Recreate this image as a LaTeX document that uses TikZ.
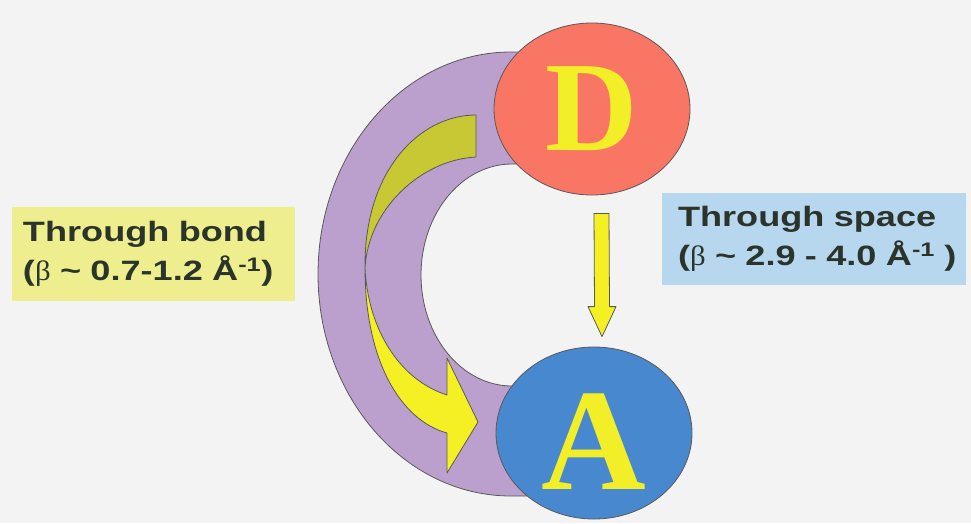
\documentclass[tikz,border=0pt]{standalone}
\usepackage{fontspec}
\setmainfont{Liberation Sans}
\newfontfamily\lblfont[FakeStretch=1.29]{Liberation Sans}
\newfontfamily\grkfont[FakeStretch=1.1]{Liberation Serif}
\newfontfamily\ltrfont{Liberation Serif}
\usetikzlibrary{shapes.geometric,calc}
\definecolor{bgc}{RGB}{243,243,243}
\definecolor{ringc}{RGB}{187,160,206}
\definecolor{donorc}{RGB}{249,118,100}
\definecolor{accc}{RGB}{72,136,206}
\definecolor{lettery}{RGB}{242,238,40}
\definecolor{arrowy}{RGB}{245,240,35}
\definecolor{arrowdk}{RGB}{200,200,52}
\definecolor{bondc}{RGB}{238,238,142}
\definecolor{spacec}{RGB}{182,215,238}
\definecolor{txtc}{RGB}{42,52,42}
\newcommand{\bt}{{\grkfont\mdseries β}}

\begin{document}
\begin{tikzpicture}[
  x=1pt,y=-1pt,
  edge/.style={draw=black!65,line width=.8pt,line join=round},
  ball/.style={ellipse,edge,minimum width=196pt,minimum height=172pt,inner sep=0},
  ltr/.style={text=lettery,inner sep=0,font=\ltrfont\bfseries},
  tag/.style={text=txtc,align=left,inner ysep=0,font=\lblfont\bfseries\fontsize{28}{39}\selectfont},
]
  \fill[bgc] (0,0) rectangle (971,523);
  \useasboundingbox (0,0) rectangle (971,523);
  \draw[edge,fill=ringc] (560,52) -- (511,52) arc[start angle=270,end angle=90,x radius=193,y radius=222]
    -- (560,496) -- (560,386) -- (512,386) arc[start angle=90,end angle=270,x radius=91,y radius=111]
    -- (560,164) -- cycle;
  \draw[edge,fill=arrowdk] (476,115) .. controls (420,115) and (364,170) .. (365,268)
    .. controls (368,210) and (420,160) .. (476,157) -- cycle;
  \draw[edge,fill=arrowy] (365,268) .. controls (365,360) and (400,420) .. (447,433)
    -- (447,473) -- (478,422) -- (447,358) -- (447,395)
    .. controls (400,380) and (368,330) .. (365,268) -- cycle;
  \node[ball,fill=donorc] (D) at (592,109) {};
  \node[ball,fill=accc] (A) at (594,433) {};
  \node[ltr,font=\ltrfont\bfseries\fontsize{128}{128}\selectfont] (Dl) at (D.center) {D};
  \node[ltr,font=\ltrfont\bfseries\fontsize{145}{145}\selectfont] (Al) at ([yshift=-9pt]A.center) {A};
  \coordinate (sTop) at ($(D.south)+(9.5,18)$);
  \coordinate (sTip) at ($(A.north)+(8,-10)$);
  \draw[edge,fill=arrowy] ($(sTop)+(-7.5,0)$) -- ($(sTip)+(-7.5,-30)$) -- ($(sTip)+(-14,-30)$) -- (sTip)
    -- ($(sTip)+(14,-30)$) -- ($(sTip)+(7.5,-30)$) -- ($(sTop)+(7.5,0)$) -- cycle;
  \node[tag,fill=bondc,inner xsep=11pt,text width=261pt,minimum height=94pt] (bond) at (153.5,254)
    {Through bond\\(\bt{} \textasciitilde{} 0.7-1.2 Å\textsuperscript{-1})};
  \node[tag,fill=spacec,inner xsep=16pt,text width=272pt,minimum height=92pt] (space) at (814,239)
    {Through space\\\mbox{(\bt{} \textasciitilde{} 2.9 - 4.0 Å\textsuperscript{-1} )}};
\end{tikzpicture}
\end{document}
